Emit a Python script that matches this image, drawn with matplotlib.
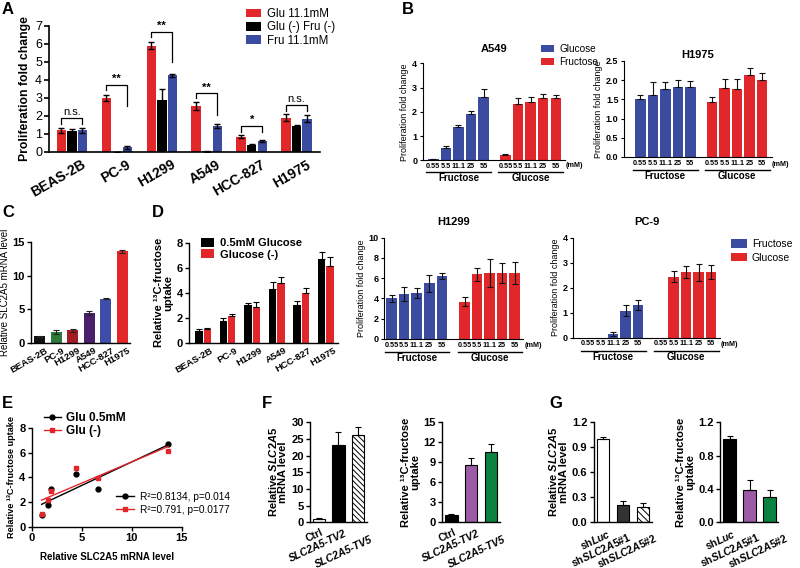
import numpy as np
import matplotlib
matplotlib.use('Agg')
import matplotlib.pyplot as plt
import matplotlib.transforms as mtrans
from matplotlib.patches import Patch
from matplotlib.lines import Line2D
from matplotlib import font_manager

plt.rcParams['font.family'] = ['Liberation Sans', 'DejaVu Sans']
plt.rcParams['font.weight'] = 'bold'
plt.rcParams['axes.labelweight'] = 'bold'
plt.rcParams['mathtext.fontset'] = 'custom'
plt.rcParams['mathtext.rm'] = 'Liberation Sans:bold'
plt.rcParams['mathtext.it'] = 'Liberation Sans:italic:bold'
plt.rcParams['mathtext.bf'] = 'Liberation Sans:bold'
plt.rcParams['hatch.linewidth'] = 0.7

try:
    font_manager.findfont(font_manager.FontProperties(family='Liberation Sans Narrow'),
                          fallback_to_default=False)
    CONC_FONT = {'family': ['Liberation Sans Narrow', 'Liberation Sans'], 'size': 6.3}
except Exception:
    CONC_FONT = {'family': ['Liberation Sans', 'DejaVu Sans'], 'size': 5.2}

RED = '#E2272B'
BLUE = '#3B4BA0'

# ---------------- data ----------------
# Panel A
cell_lines = ['BEAS-2B', 'PC-9', 'H1299', 'A549', 'HCC-827', 'H1975']
a_glu = [1.2, 3.0, 5.9, 2.55, 0.85, 1.9]
a_glu_err = [0.15, 0.15, 0.2, 0.2, 0.08, 0.2]
a_none = [1.15, 0.0, 2.9, 0.05, 0.4, 1.42]
a_none_err = [0.15, 0.0, 0.6, 0.03, 0.05, 0.1]
a_fru = [1.2, 0.25, 4.25, 1.45, 0.62, 1.85]
a_fru_err = [0.12, 0.1, 0.1, 0.12, 0.04, 0.18]
a_sig = ['n.s.', '**', '**', '**', '*', 'n.s.']
a_sig_y = [1.87, 3.72, 6.64, 3.25, 1.44, 2.6]
a_sig_left = [1.55, 3.44, 6.4, 2.98, 1.13, 2.27]
a_sig_right = [1.55, 2.55, 4.97, 2.05, 1.13, 2.27]

# Panel B / D proliferation vs concentration
conc = ['0.55', '5.5', '11.1', '25', '55']
b_a549_fru = [0.04, 0.49, 1.37, 1.92, 2.63]
b_a549_fru_err = [0.01, 0.1, 0.1, 0.11, 0.33]
b_a549_glu = [0.21, 2.32, 2.41, 2.56, 2.56]
b_a549_glu_err = [0.04, 0.25, 0.19, 0.16, 0.13]
b_h1975_fru = [1.5, 1.61, 1.76, 1.81, 1.81]
b_h1975_fru_err = [0.11, 0.35, 0.19, 0.19, 0.16]
b_h1975_glu = [1.44, 1.8, 1.78, 2.13, 2.0]
b_h1975_glu_err = [0.11, 0.22, 0.26, 0.2, 0.2]
d_h1299_fru = [4.01, 4.44, 4.5, 5.49, 6.25]
d_h1299_fru_err = [0.37, 0.65, 0.5, 0.83, 0.3]
d_h1299_glu = [3.68, 6.38, 6.51, 6.51, 6.51]
d_h1299_glu_err = [0.43, 0.66, 1.35, 0.95, 1.12]
d_pc9_fru = [0.0, 0.0, 0.13, 1.07, 1.31]
d_pc9_fru_err = [0.0, 0.0, 0.08, 0.22, 0.2]
d_pc9_glu = [0.0, 2.44, 2.63, 2.61, 2.63]
d_pc9_glu_err = [0.0, 0.23, 0.24, 0.33, 0.28]

# Panel C
c_mrna = [1.0, 1.65, 1.9, 4.45, 6.6, 13.65]
c_mrna_err = [0.1, 0.3, 0.2, 0.3, 0.12, 0.2]
c_colors = ['#111111', '#2B7A3C', '#A41C24', '#4A1F6B', '#3D4DA8', RED]

# Panel D uptake
d_glu05 = [0.98, 1.78, 3.03, 4.3, 3.03, 6.67]
d_glu05_err = [0.1, 0.18, 0.2, 0.6, 0.34, 0.56]
d_gluneg = [1.08, 2.15, 2.87, 4.76, 3.96, 6.14]
d_gluneg_err = [0.1, 0.15, 0.37, 0.48, 0.4, 0.74]

# Panel F
f_labels = ['Ctrl', 'SLC2A5-TV2', 'SLC2A5-TV5']
f_mrna = [1.0, 23.2, 26.2]
f_mrna_err = [0.2, 4.0, 2.5]
f_uptake = [1.05, 8.65, 10.55]
f_uptake_err = [0.15, 0.95, 1.25]

# Panel G
g_labels = [r'sh$\mathit{Luc}$', r'sh$\mathit{SLC2A5}$#1', r'sh$\mathit{SLC2A5}$#2']
g_mrna = [1.0, 0.21, 0.18]
g_mrna_err = [0.02, 0.05, 0.05]
g_uptake = [1.0, 0.39, 0.3]
g_uptake_err = [0.035, 0.12, 0.09]

# ---------------- figure ----------------
W, H = 800, 568
fig = plt.figure(figsize=(8, 5.68), dpi=100)


def add_ax(l, t, r, b):
    return fig.add_axes([l / W, 1 - b / H, (r - l) / W, (b - t) / H])


def style(ax, lw=0.9, fs=7, ticklen=3):
    for s in ['top', 'right']:
        ax.spines[s].set_visible(False)
    for s in ['left', 'bottom']:
        ax.spines[s].set_linewidth(lw)
    ax.tick_params(width=lw, length=ticklen, labelsize=fs, pad=1.5)


def shift_labels(ax, dx, dy=0):
    labs = ax.get_xticklabels()
    dxs = dx if np.iterable(dx) else [dx] * len(labs)
    dys = dy if np.iterable(dy) else [dy] * len(labs)
    for lab, ddx, ddy in zip(labs, dxs, dys):
        off = mtrans.ScaledTranslation(ddx / 100, ddy / 100, fig.dpi_scale_trans)
        lab.set_transform(lab.get_transform() + off)


def panel_label(x, y, s):
    fig.text(x / W, 1 - y / H, s, fontsize=12, fontweight='bold', va='top', ha='left')


def patch_legend(ax, colors, labels, x, y, fs, weight='bold', hl=1.2, hh=0.9, sp=0.15):
    handles = [Patch(facecolor=c, edgecolor='none') for c in colors]
    leg = ax.legend(handles, labels, loc='upper left', bbox_to_anchor=(x / W, 1 - y / H),
                    bbox_transform=fig.transFigure, frameon=False,
                    handlelength=hl, handleheight=hh, labelspacing=sp, borderpad=0,
                    borderaxespad=0, handletextpad=0.5,
                    prop={'size': fs, 'weight': weight})
    return leg


# ---------- Panel A ----------
axA = add_ax(49, 25.7, 320, 152)
style(axA, lw=1.2, fs=9, ticklen=3.5)
x = np.arange(len(cell_lines))
offs = [-0.235, 0.0, 0.235]
for off, v, e, c in zip(offs, [a_glu, a_none, a_fru], [a_glu_err, a_none_err, a_fru_err],
                        [RED, 'black', BLUE]):
    axA.bar(x + off, v, width=0.21, color=c)
    axA.errorbar(x + off, v, yerr=e, fmt='none', ecolor='black', elinewidth=1, capsize=2.2, capthick=1)
for i in range(len(cell_lines)):
    xl, xr = x[i] + offs[0], x[i] + offs[2]
    axA.plot([xl, xl, xr, xr], [a_sig_left[i], a_sig_y[i], a_sig_y[i], a_sig_right[i]],
             color='black', lw=0.9)
    axA.text(x[i], a_sig_y[i] + 0.05, a_sig[i], ha='center', va='bottom', fontsize=8,
             fontweight='normal' if a_sig[i] == 'n.s.' else 'bold')
axA.set_ylim(0, 7)
axA.set_yticks(range(8))
for lab in axA.get_yticklabels():
    lab.set_fontweight('normal')
axA.set_xlim(-0.51, 5.52)
axA.set_xticks(x)
axA.set_xticklabels(cell_lines, rotation=30, ha='right', rotation_mode='anchor', fontsize=10)
axA.tick_params(axis='x', length=0, pad=4)
shift_labels(axA, 9, 0)
axA.set_ylabel('Proliferation fold change', fontsize=8.8, labelpad=3)
patch_legend(axA, [RED, 'black', BLUE], ['Glu 11.1mM', 'Glu (-) Fru (-)', 'Fru 11.1mM'],
             246, 8, 8.3, weight='normal', hl=1.3, hh=0.8, sp=0.12)
panel_label(2, 2, 'A')


# ---------- concentration panels ----------
def conc_panel(box, xlim, fru, fru_err, glu, glu_err, gap, ylim, yticks, yfmt, title,
               two_sided, dys, title_y):
    l, t, r, b = box
    ax = add_ax(l, t, r, b)
    style(ax, lw=0.8, fs=6.5, ticklen=2.5)
    fpos = np.arange(5)
    gpos = np.arange(5) + gap
    ax.bar(fpos, fru, width=0.84, color=BLUE)
    ax.bar(gpos, glu, width=0.84, color=RED)
    for pos, v, e in [(fpos, fru, fru_err), (gpos, glu, glu_err)]:
        v = np.array(v)
        e = np.array(e)
        m = v > 0
        lower = e[m] if two_sided else np.zeros(m.sum())
        ax.errorbar(pos[m], v[m], yerr=[lower, e[m]], fmt='none', ecolor='#111111',
                    elinewidth=0.8, capsize=2.2, capthick=0.8)
    ax.set_xlim(*xlim)
    ax.set_ylim(*ylim)
    ax.set_yticks(yticks)
    ax.set_yticklabels([yfmt.format(v) for v in yticks])
    ax.set_xticks(list(fpos) + list(gpos))
    ax.set_xticklabels(conc * 2, fontdict=dict(CONC_FONT, weight='bold'))
    ax.tick_params(axis='x', length=0, pad=2)
    ax.set_ylabel('Proliferation fold change', fontsize=6.5, fontweight='normal', labelpad=2)
    hpx = b - t
    tr = ax.get_xaxis_transform()
    ax.text(gpos[-1] + 0.8, -dys[0] / hpx, '(mM)', transform=tr, ha='left', va='center',
            fontdict=dict(CONC_FONT, weight='bold'))
    for pos, name in [(fpos, 'Fructose'), (gpos, 'Glucose')]:
        ax.plot([pos[0] - 0.55, pos[-1] + 0.6], [-dys[1] / hpx] * 2, transform=tr,
                color='black', lw=1.0, clip_on=False)
        ax.text((pos[0] + pos[-1]) / 2, -dys[2] / hpx, name, transform=tr, fontsize=7,
                ha='center', va='center')
    fig.text(((l + r) / 2) / W, 1 - title_y / H, title, fontsize=8, ha='center', va='center')
    return ax


axB1 = conc_panel((422.7, 63.3, 565, 160.3), (-0.84, 10.45), b_a549_fru, b_a549_fru_err,
                  b_a549_glu, b_a549_glu_err, 5.72, (0, 4), [0, 1, 2, 3, 4], '{:d}', 'A549',
                  False, (5.6, 11.6, 17.8), 49.3)
patch_legend(axB1, [BLUE, RED], ['Glucose', 'Fructose'], 541, 44, 7.2, weight='normal',
             hl=1.3, hh=0.8, sp=0.3)
axB2 = conc_panel((624, 61, 771.7, 157), (-1.3, 10.5), b_h1975_fru, b_h1975_fru_err,
                  b_h1975_glu, b_h1975_glu_err, 5.73, (0, 2.5), [0, 0.5, 1.0, 1.5, 2.0, 2.5],
                  '{:.1f}', 'H1975', False, (7, 13, 18.7), 55)
panel_label(402, 2, 'B')

axD2 = conc_panel((384.3, 237.7, 523.3, 339), (-0.59, 10.5), d_h1299_fru, d_h1299_fru_err,
                  d_h1299_glu, d_h1299_glu_err, 5.81, (0, 10), [0, 2, 4, 6, 8, 10], '{:d}',
                  'H1299', True, (6.7, 12.7, 18.7), 222)
axD3 = conc_panel((573.3, 237.7, 720, 337.7), (-1.18, 10.56), d_pc9_fru, d_pc9_fru_err,
                  d_pc9_glu, d_pc9_glu_err, 5.85, (0, 4), [0, 1, 2, 3, 4], '{:d}',
                  'PC-9', True, (6.3, 13.3, 19), 222)
patch_legend(axD3, [BLUE, RED], ['Fructose', 'Glucose'], 731, 239, 7.5, weight='normal',
             hl=1.5, hh=0.9, sp=0.35)

# ---------- Panel C ----------
axC = add_ax(31, 242.3, 130, 343)
style(axC, lw=1.0, fs=8, ticklen=3)
xc = np.arange(len(cell_lines))
axC.bar(xc, c_mrna, width=0.65, color=c_colors)
axC.errorbar(xc, c_mrna, yerr=c_mrna_err, fmt='none', ecolor='#222222', elinewidth=0.8,
             capsize=2, capthick=0.8)
axC.set_xlim(-0.53, 5.47)
axC.set_ylim(0, 15)
axC.set_yticks([0, 5, 10, 15])
axC.set_xticks(xc)
axC.set_xticklabels(cell_lines, rotation=30, ha='right', rotation_mode='anchor', fontsize=6.8)
axC.tick_params(axis='x', length=0, pad=2)
shift_labels(axC, 5, 0)
axC.set_ylabel('Relative SLC2A5 mRNA level', fontsize=7, fontweight='normal', labelpad=2)
panel_label(2, 205, 'C')

# ---------- Panel D uptake ----------
axD1 = add_ax(189, 242.7, 338, 343)
style(axD1, lw=1.0, fs=8, ticklen=3)
axD1.bar(xc - 0.17, d_glu05, width=0.3, color='black')
axD1.bar(xc + 0.17, d_gluneg, width=0.3, color=RED)
axD1.errorbar(xc - 0.17, d_glu05, yerr=[np.zeros(6), d_glu05_err], fmt='none', ecolor='black',
              elinewidth=0.8, capsize=2, capthick=0.8)
axD1.errorbar(xc + 0.17, d_gluneg, yerr=[np.zeros(6), d_gluneg_err], fmt='none', ecolor='black',
              elinewidth=0.8, capsize=2, capthick=0.8)
axD1.set_xlim(-0.57, 5.49)
axD1.set_ylim(0, 8)
axD1.set_yticks([0, 2, 4, 6, 8])
axD1.set_xticks(xc)
axD1.set_xticklabels(cell_lines, rotation=30, ha='right', rotation_mode='anchor', fontsize=6.8)
axD1.tick_params(axis='x', length=0, pad=2)
shift_labels(axD1, 7, 0)
axD1.set_ylabel('Relative \u00b9\u00b3C-fructose\nuptake', fontsize=8, labelpad=2, linespacing=0.95)
patch_legend(axD1, ['black', RED], ['0.5mM Glucose', 'Glucose (-)'], 201, 238, 8,
             weight='bold', hl=1.2, hh=0.8, sp=0.12)
panel_label(152, 205, 'D')

# ---------- Panel E ----------
axE = add_ax(31.7, 427.7, 181.7, 527)
style(axE, lw=1.0, fs=8, ticklen=3)
xe = np.array(c_mrna)
for yv, col, mk in [(np.array(d_glu05), 'black', 'o'), (np.array(d_gluneg), RED, 's')]:
    axE.plot(xe, yv, linestyle='none', marker=mk, color=col, ms=3.5)
    k, c0 = np.polyfit(xe, yv, 1)
    xx = np.array([xe.min(), xe.max()])
    axE.plot(xx, k * xx + c0, color=col, lw=1.0)
axE.set_xlim(0, 15)
axE.set_ylim(0, 8)
axE.set_xticks([0, 5, 10, 15])
axE.set_yticks([0, 2, 4, 6, 8])
axE.set_xlabel('Relative SLC2A5 mRNA level', fontsize=7, labelpad=6)
axE.set_ylabel('Relative \u00b9\u00b3C-fructose uptake', fontsize=6.6, labelpad=2)
h1 = [Line2D([0], [0], color='black', marker='o', ms=3.5, lw=1),
      Line2D([0], [0], color=RED, marker='s', ms=3.5, lw=1)]
leg1 = axE.legend(h1, ['Glu 0.5mM', 'Glu (-)'], loc='upper left', bbox_to_anchor=(44 / W, 1 - 412 / H),
                  bbox_transform=fig.transFigure, frameon=False, prop={'size': 8.5, 'weight': 'bold'},
                  handlelength=1.4, labelspacing=0.1, borderpad=0, borderaxespad=0, handletextpad=0.5)
axE.add_artist(leg1)
axE.legend(h1, ['R\u00b2=0.8134, p=0.014', 'R\u00b2=0.791, p=0.0177'], loc='upper left',
           bbox_to_anchor=(116 / W, 1 - 492 / H), bbox_transform=fig.transFigure, frameon=False,
           prop={'size': 7.3, 'weight': 'normal'}, handlelength=1.8, labelspacing=0.3,
           borderpad=0, borderaxespad=0, handletextpad=0.6)
panel_label(2, 396, 'E')


# ---------- Panels F and G ----------
def small_bar(box, vals, errs, colors, hatches, ylim, yticks, yfmt, labels, ylabel, xlim,
              dxs, dys, italic=False, rot=25, fs=7.5):
    ax = add_ax(*box)
    style(ax, lw=1.0, fs=8, ticklen=3)
    xs = np.arange(len(vals))
    for xi, v, c, h in zip(xs, vals, colors, hatches):
        ax.bar(xi, v, width=0.63, color=c, edgecolor='black', linewidth=0.8, hatch=h)
    ax.errorbar(xs, vals, yerr=[np.zeros(len(vals)), errs], fmt='none', ecolor='black',
                elinewidth=0.8, capsize=2.2, capthick=0.8)
    ax.set_xlim(*xlim)
    ax.set_ylim(*ylim)
    ax.set_yticks(yticks)
    ax.set_yticklabels([yfmt.format(v) for v in yticks])
    ax.set_xticks(xs)
    ax.set_xticklabels(labels, rotation=rot, ha='right', rotation_mode='anchor', fontsize=fs)
    if italic:
        for lab in ax.get_xticklabels()[1:]:
            lab.set_fontstyle('italic')
    ax.tick_params(axis='x', length=0, pad=3.5)
    shift_labels(ax, dxs, dys)
    ax.set_ylabel(ylabel, fontsize=8, labelpad=2, linespacing=0.95)
    return ax


mrna_label = 'Relative $\\mathit{SLC2A5}$\nmRNA level'
uptake_label = 'Relative \u00b9\u00b3C-fructose\nuptake'
small_bar((310, 422.3, 367, 522.3), f_mrna, f_mrna_err, ['white', 'black', 'white'],
          [None, None, '\\\\\\\\\\\\'], (0, 30), [0, 5, 10, 15, 20, 25, 30], '{:d}',
          f_labels, mrna_label, (-0.45, 2.46), [2, 6, 12], [0, -1, -7], italic=True)
small_bar((441.7, 422.3, 500, 522.3), f_uptake, f_uptake_err, ['black', '#9B5BA6', '#0B8340'],
          [None, None, None], (0, 15), [0, 3, 6, 9, 12, 15], '{:d}',
          f_labels, uptake_label, (-0.49, 2.47), [2, 6, 12], [0, -1, -7], italic=True)
panel_label(262, 396, 'F')
small_bar((593.7, 422.3, 652, 522.3), g_mrna, g_mrna_err, ['white', '#333333', 'white'],
          [None, None, '\\\\\\\\\\'], (0, 1.2), [0, 0.3, 0.6, 0.9, 1.2], '{:.1f}',
          g_labels, mrna_label, (-0.47, 2.45), [4, 5, 11], [0, -3, -4], rot=25)
small_bar((720, 422.3, 778, 522.3), g_uptake, g_uptake_err, ['black', '#9B5BA6', '#0B8340'],
          [None, None, None], (0, 1.2), [0, 0.4, 0.8, 1.2], '{:.1f}',
          g_labels, uptake_label, (-0.48, 2.42), [3, 7, 15], [0, -3, -4], rot=25)
panel_label(549, 396, 'G')

fig.savefig('out.png', dpi=100)
